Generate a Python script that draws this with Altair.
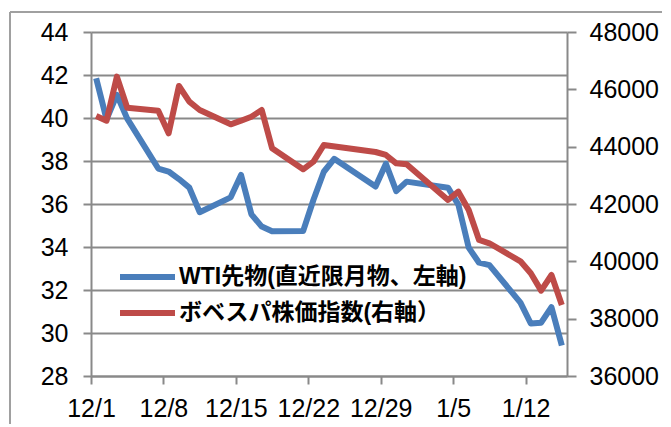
import altair as alt
import pandas as pd

# ---- data ----
wti_dates = ["2015-12-01", "2015-12-02", "2015-12-03", "2015-12-04", "2015-12-07", "2015-12-08",
             "2015-12-09", "2015-12-10", "2015-12-11", "2015-12-14", "2015-12-15", "2015-12-16",
             "2015-12-17", "2015-12-18", "2015-12-21", "2015-12-22", "2015-12-23", "2015-12-24",
             "2015-12-28", "2015-12-29", "2015-12-30", "2015-12-31", "2016-01-04", "2016-01-05",
             "2016-01-06", "2016-01-07", "2016-01-08", "2016-01-11", "2016-01-12", "2016-01-13",
             "2016-01-14", "2016-01-15"]
wti_values = [41.85, 39.94, 41.08, 39.97, 37.65, 37.51, 37.16, 36.76, 35.62, 36.31, 37.35, 35.52,
              34.95, 34.73, 34.74, 36.20, 37.50, 38.10, 36.81, 37.87, 36.60, 37.04, 36.76, 35.97,
              33.97, 33.27, 33.16, 31.41, 30.44, 30.48, 31.20, 29.42]

bov_dates = ["2015-12-01", "2015-12-02", "2015-12-03", "2015-12-04", "2015-12-07", "2015-12-08",
             "2015-12-09", "2015-12-10", "2015-12-11", "2015-12-14", "2015-12-15", "2015-12-16",
             "2015-12-17", "2015-12-18", "2015-12-21", "2015-12-22", "2015-12-23",
             "2015-12-28", "2015-12-29", "2015-12-30", "2015-12-31", "2016-01-04", "2016-01-05",
             "2016-01-06", "2016-01-07", "2016-01-08", "2016-01-11", "2016-01-12", "2016-01-13",
             "2016-01-14", "2016-01-15"]
bov_values = [45070, 44906, 46442, 45360, 45255, 44465, 46116, 45570, 45280, 44780, 44906, 45046,
              45279, 43943, 43210, 43477, 44058, 43814, 43710, 43420, 43390, 42140, 42430,
              41790, 40745, 40630, 40000, 39583, 38977, 39524, 38480]

legend_labels = ["WTI先物(直近限月物、左軸)", "ボベスパ株価指数(右軸）"]
left_ticks = [28, 30, 32, 34, 36, 38, 40, 42, 44]
right_ticks = [36000, 38000, 40000, 42000, 44000, 46000, 48000]
x_tick_dates = [(2015, 12, 1), (2015, 12, 8), (2015, 12, 15), (2015, 12, 22), (2015, 12, 29),
                (2016, 1, 5), (2016, 1, 12)]

BLUE = "#4A7EBB"
RED = "#BE4B48"
GRAY = "#898989"

wti_df = pd.DataFrame({"date": [d + "T12:00:00" for d in wti_dates], "wti": wti_values})
bov_df = pd.DataFrame({"date": [d + "T12:00:00" for d in bov_dates], "bov": bov_values})

x_enc = alt.X(
    "date:T",
    scale=alt.Scale(domain=[alt.DateTime(year=2015, month=12, date=1),
                            alt.DateTime(year=2016, month=1, date=16)]),
    axis=alt.Axis(values=[alt.DateTime(year=y, month=m, date=d) for (y, m, d) in x_tick_dates],
                  format="%-m/%-d", title=None, grid=False, labelPadding=12,
                  labelAlign="center", labelOverlap=False),
)

wti_line = alt.Chart(wti_df).mark_line(color=BLUE, strokeWidth=6, strokeJoin="round").encode(
    x=x_enc,
    y=alt.Y("wti:Q",
            scale=alt.Scale(domain=[28, 44], nice=False, zero=False),
            axis=alt.Axis(values=left_ticks, orient="left", title=None, grid=True,
                          labelPadding=15)),
)

bov_line = alt.Chart(bov_df).mark_line(color=RED, strokeWidth=6, strokeJoin="round").encode(
    x=x_enc,
    y=alt.Y("bov:Q",
            scale=alt.Scale(domain=[36000, 48000], nice=False, zero=False),
            axis=alt.Axis(values=right_ticks, orient="right", title=None, grid=False,
                          format="d", labelPadding=13, tickSize=9)),
)

one = alt.Data(values=[{}])
legend_font = "Liberation Sans, Noto Sans CJK JP, sans-serif"

leg1_line = alt.Chart(one).mark_rule(color=BLUE, strokeWidth=6).encode(
    x=alt.value(29), x2=alt.value(84), y=alt.value(245))
leg2_line = alt.Chart(one).mark_rule(color=RED, strokeWidth=6).encode(
    x=alt.value(29), x2=alt.value(84), y=alt.value(281))
leg1_text = alt.Chart(one).mark_text(align="left", baseline="middle", fontSize=23,
                                     fontWeight="bold", font=legend_font, color="black").encode(
    x=alt.value(88), y=alt.value(245), text=alt.value(legend_labels[0]))
leg2_text = alt.Chart(one).mark_text(align="left", baseline="middle", fontSize=23,
                                     fontWeight="bold", font=legend_font, color="black").encode(
    x=alt.value(88), y=alt.value(281), text=alt.value(legend_labels[1]))

frame_left = alt.Chart(one).mark_rule(color="#A0A0A0", strokeWidth=2).encode(
    x=alt.value(-81), y=alt.value(-20), y2=alt.value(420))
frame_top = alt.Chart(one).mark_rule(color="#A0A0A0", strokeWidth=2).encode(
    x=alt.value(-81), x2=alt.value(620), y=alt.value(-20))

chart = alt.layer(
    wti_line, bov_line, frame_left, frame_top, leg1_line, leg2_line, leg1_text, leg2_text
).resolve_scale(y="independent").properties(
    width=476, height=344,
    padding={"left": 83, "top": 24, "right": 95, "bottom": 48},
    autosize=alt.AutoSizeParams(type="none"),
).configure_view(strokeWidth=0).configure_axis(
    labelFont="Liberation Sans", labelFontSize=25, labelColor="black",
    domainColor=GRAY, domainWidth=2, tickColor=GRAY, tickWidth=2, tickSize=8,
    gridColor=GRAY, gridWidth=2,
)

chart.save("out.html", embed_options={"renderer": "svg", "actions": False})
